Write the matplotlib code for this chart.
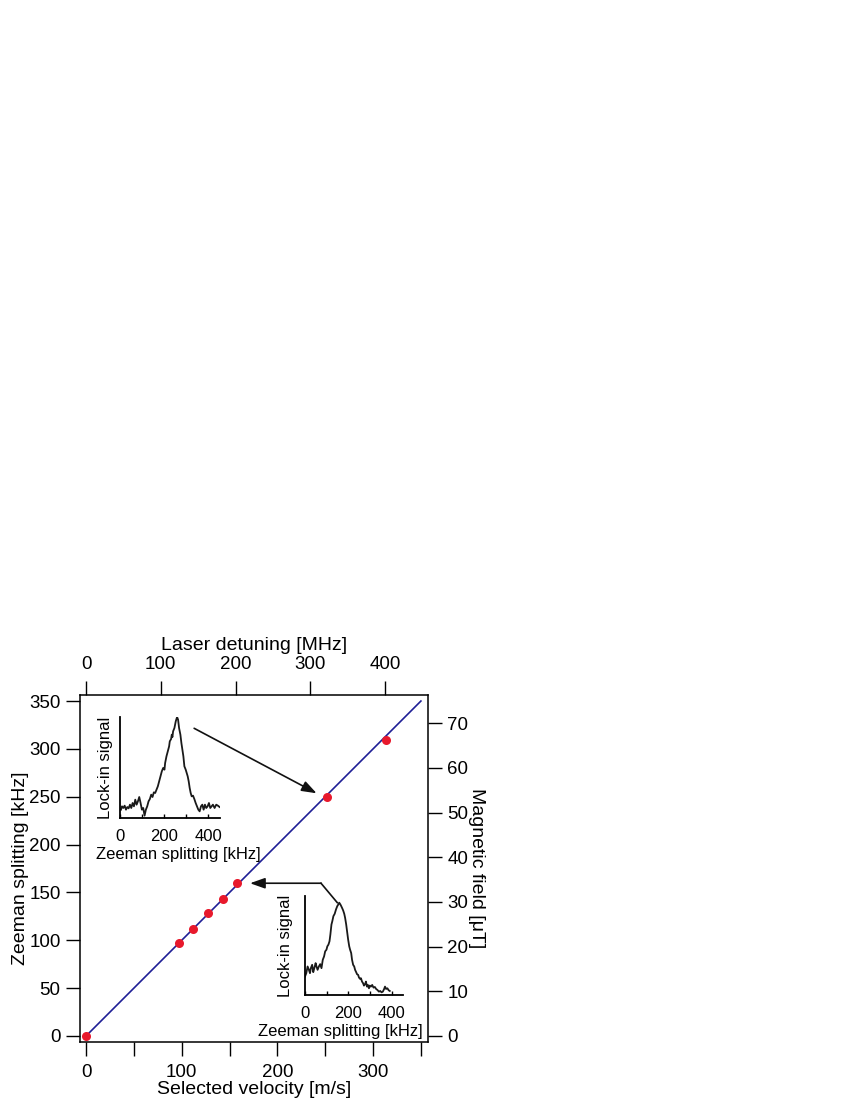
import matplotlib
matplotlib.use('Agg')
import matplotlib.pyplot as plt

plt.rcParams['font.family'] = ['Liberation Sans', 'DejaVu Sans']

# main panel: measured points and the linear relation
velocity = [0, 97, 112, 127, 143, 158, 252, 314]
splitting = [0, 97, 112, 129, 143, 160, 250, 309]
fit_v = [0, 350]
fit_s = [0, 350]

MHZ_PER_MS = 1.28      # laser detuning per m/s
KHZ_PER_UT = 4.667     # Zeeman splitting per microtesla

# inset 1 (upper left) spectrum
ins1_khz = [4.5, 9, 15, 21, 27, 33, 39, 45, 51, 57, 63, 69, 75, 81, 87, 93, 99, 105,
            111, 117, 123, 129, 135, 141, 147, 153, 159, 165, 171, 177, 183, 189, 195,
            201, 204, 210, 216, 222, 225, 231, 234, 237, 240, 246, 252, 258, 262.5, 267,
            273, 277.5, 282, 286.5, 291, 297, 301.5, 306, 310.5, 315, 319.5, 324, 330,
            336, 342, 348, 354, 360, 366, 372, 378, 384, 390, 396, 402, 408, 414, 420,
            427.5, 435, 442.5, 450]
ins1_sig = [25, 35, 30, 37, 25, 33, 29, 40, 30, 45, 35, 55, 40, 50, 63, 45, 25, 30,
            7, 25, 35, 50, 57, 70, 63, 77, 75, 85, 95, 110, 125, 140, 150,
            145, 165, 185, 200, 215, 230, 237, 250, 243, 260, 270, 290, 303, 295, 270,
            250, 225, 205, 185, 155, 145, 135, 125, 110, 90, 75, 65, 67,
            57, 45, 35, 25, 20, 35, 40, 25, 40, 30, 35, 45, 30, 35, 40,
            30, 40, 37, 33]

# inset 2 (lower right) spectrum
ins2_khz = [0, 6, 12, 18, 23, 27, 33, 38, 43, 49, 53, 58, 64, 70, 76, 82, 88, 93, 99,
            103, 108, 113, 117, 122, 126, 131, 137, 143, 149, 154, 158, 163, 167, 172,
            176, 181, 185, 190, 195, 199, 204, 208, 213, 217, 222, 227, 231, 236, 240,
            245, 249, 254, 258, 263, 268, 272, 277, 281, 286, 290, 295, 299, 304, 310,
            316, 322, 328, 334, 341, 347, 353, 359, 365, 369, 374, 380, 386, 391]
ins2_sig = [55, 65, 85, 75, 65, 80, 90, 68, 80, 95, 85, 75, 85, 92, 80, 105, 115, 130, 135,
            145, 150, 160, 180, 210, 220, 235, 242, 255, 265, 270, 275, 270, 265, 258,
            252, 242, 230, 210, 185, 165, 145, 135, 125, 105, 90, 85, 75, 68, 62,
            60, 52, 48, 50, 40, 35, 28, 32, 40, 25, 30, 20, 28, 25, 30,
            22, 24, 18, 15, 10, 12, 8, 10, 18, 25, 18, 20, 14, 12]

fig = plt.figure(figsize=(8.5, 11), dpi=100)

ax = fig.add_axes([80 / 850, 1 - 1042 / 1100, 348 / 850, 347 / 1100])
ax.plot(fit_v, fit_s, color='#1f1f96', lw=1.2, zorder=2)
ax.plot(velocity, splitting, 'o', color='#e8192c', ms=6.5, mec='none', zorder=3)
ax.set_xlim(-6.3, 357.4)
ax.set_ylim(-6.3, 356.3)
ax.set_xticks([0, 100, 200, 300])
ax.set_xticks([50, 150, 250, 350], minor=True)
ax.set_yticks(range(0, 351, 50))
ax.tick_params(which='both', direction='out', length=10, width=1, labelsize=13.5)
ax.tick_params(axis='x', pad=6)
ax.tick_params(axis='y', pad=4)
ax.spines['top'].set_visible(False)
ax.spines['right'].set_visible(False)
for s in ax.spines.values():
    s.set_linewidth(1.1)
ax.set_xlabel('Selected velocity [m/s]', fontsize=14, labelpad=0)
ax.set_ylabel('Zeeman splitting [kHz]', fontsize=14, labelpad=0)

secx = ax.secondary_xaxis('top', functions=(lambda v: v * MHZ_PER_MS, lambda f: f / MHZ_PER_MS))
secx.set_xticks([0, 100, 200, 300, 400])
secx.tick_params(direction='out', length=10, width=1, labelsize=13.5, pad=6)
secx.spines['top'].set_linewidth(1.1)
secx.set_xlabel('Laser detuning [MHz]', fontsize=14, labelpad=4)

secy = ax.secondary_yaxis('right', functions=(lambda z: z / KHZ_PER_UT, lambda b: b * KHZ_PER_UT))
secy.set_yticks(range(0, 71, 10))
secy.tick_params(direction='out', length=10, width=1, labelsize=13.5, pad=4)
secy.spines['right'].set_linewidth(1.1)
secy.set_ylabel('Magnetic field [μT]', fontsize=14, rotation=270, va='bottom', labelpad=0)

# arrows from the insets to the points
arrow = dict(arrowstyle='-|>,head_length=0.45,head_width=0.16', mutation_scale=20,
             color='#111111', lw=1.2, shrinkA=0, shrinkB=0)
ax.annotate('', xy=(241, 253.6), xytext=(113, 321.5), arrowprops=arrow)
ax.plot([262.6, 245.6], [139.3, 159.6], color='#111111', lw=1.2)
ax.annotate('', xy=(171.4, 159.6), xytext=(245.6, 159.6), arrowprops=arrow)


def draw_inset(rect, khz, sig, ytop, ylpad, xlab_x):
    ins = fig.add_axes(rect)
    ins.patch.set_facecolor('none')
    ins.plot(khz, sig, color='#1a1a1a', lw=1.3)
    ins.set_xlim(0, 452)
    ins.set_ylim(0, ytop)
    ins.spines['top'].set_visible(False)
    ins.spines['right'].set_visible(False)
    for s in ('left', 'bottom'):
        ins.spines[s].set_linewidth(1.3)
    ins.set_yticks([])
    ins.set_xticks([0, 100, 200, 300, 400], ['0', '', '200', '', '400'])
    ins.tick_params(axis='x', direction='in', length=3, width=1, labelsize=12, pad=8)
    ins.set_xlabel('Zeeman splitting [kHz]', fontsize=12, labelpad=2)
    ins.xaxis.label.set_x(xlab_x)
    ins.set_ylabel('Lock-in signal', fontsize=12, labelpad=ylpad)
    return ins


draw_inset([120 / 850, 1 - 818 / 1100, 100 / 850, 101 / 1100], ins1_khz, ins1_sig, 303, 5, 0.58)
draw_inset([305 / 850, 1 - 995 / 1100, 98 / 850, 99 / 1100], ins2_khz, ins2_sig, 295, 8.5, 0.36)

fig.savefig('out.png', dpi=100)
